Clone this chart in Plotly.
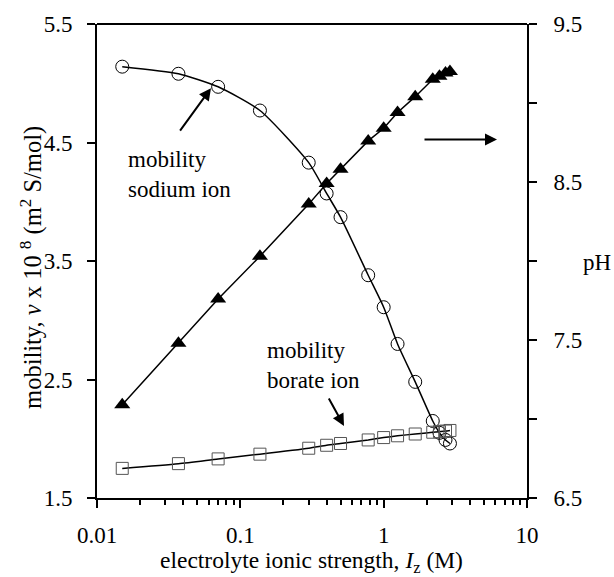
import plotly.graph_objects as go

# Electrolyte ionic strength (M)
ionic_strength = [0.015, 0.037, 0.07, 0.137, 0.3, 0.4, 0.5, 0.78, 1.0, 1.25,
                  1.66, 2.2, 2.45, 2.7, 2.9]
# Sodium ion mobility (x 1e8 m^2 S/mol)
mobility_sodium = [5.14, 5.08, 4.97, 4.77, 4.33, 4.07, 3.87, 3.38, 3.11, 2.80,
                   2.48, 2.15, 2.05, 1.99, 1.96]
# Borate ion mobility (x 1e8 m^2 S/mol)
mobility_borate = [1.75, 1.79, 1.83, 1.87, 1.92, 1.945, 1.96, 1.99, 2.01, 2.025,
                   2.04, 2.055, 2.06, 2.065, 2.07]
# Solution pH
ph_values = [7.09, 7.48, 7.76, 8.03, 8.36, 8.49, 8.58, 8.76, 8.84, 8.94,
             9.04, 9.15, 9.17, 9.19, 9.20]

left_ticks = [1.5, 2.5, 3.5, 4.5, 5.5]
right_ticks = [6.5, 7.0, 7.5, 8.0, 8.5, 9.0, 9.5]
right_ticktext = ["6.5", "", "7.5", "", "8.5", "", "9.5"]
x_major = [0.01, 0.1, 1, 10]
x_minor = [m * d for d in (0.01, 0.1, 1) for m in range(2, 10)]

FONT = "Liberation Serif"
W, H = 614, 577
L, R, T, B = 97, 87, 18, 79
PW, PH = W - L - R, H - T - B


def px(xp):
    return (xp - L) / PW


def py(yp):
    return (H - B - yp) / PH


fig = go.Figure()

fig.add_trace(go.Scatter(
    x=ionic_strength, y=mobility_sodium, mode="lines+markers",
    line=dict(color="black", width=1.5, shape="spline", smoothing=0.6),
    marker=dict(symbol="circle-open", size=13, color="black",
                line=dict(width=1, color="black")),
    yaxis="y", showlegend=False))

fig.add_trace(go.Scatter(
    x=ionic_strength, y=mobility_borate, mode="lines+markers",
    line=dict(color="black", width=1.5, shape="spline", smoothing=0.6),
    marker=dict(symbol="square-open", size=12, color="#555555",
                line=dict(width=1, color="#555555")),
    yaxis="y", showlegend=False))

fig.add_trace(go.Scatter(
    x=ionic_strength, y=ph_values, mode="lines+markers",
    line=dict(color="black", width=1.5),
    marker=dict(symbol="triangle-up", size=14, color="black"),
    yaxis="y2", showlegend=False))

axis_common = dict(showgrid=False, zeroline=False, showline=True,
                   linecolor="black", linewidth=2, ticks="outside",
                   tickcolor="black", tickwidth=1.5, ticklen=8,
                   tickfont=dict(family=FONT, size=23, color="black"))

fig.update_layout(
    width=W, height=H,
    margin=dict(l=L, r=R, t=T, b=B, pad=0),
    paper_bgcolor="white", plot_bgcolor="white",
    xaxis=dict(type="log", range=[-2, 1], tickmode="array",
               tickvals=x_major, ticktext=["0.01", "0.1", "1", "10"],
               ticklabelstandoff=7,
               minor=dict(tickmode="array", tickvals=x_minor, ticks="outside",
                          ticklen=5, tickwidth=1.5, tickcolor="black",
                          showgrid=False),
               **axis_common),
    yaxis=dict(range=[1.5, 5.5], tickmode="array", tickvals=left_ticks,
               ticktext=[f"{v:.1f}" for v in left_ticks],
               ticklabelstandoff=10, **axis_common),
    yaxis2=dict(range=[6.5, 9.5], tickmode="array", tickvals=right_ticks,
                ticktext=right_ticktext, overlaying="y", side="right",
                ticklabelstandoff=12, **axis_common),
)

# Top frame line
fig.add_shape(type="line", xref="paper", yref="paper", x0=0, x1=1, y0=1, y1=1,
              line=dict(color="black", width=2))

text_font = dict(family=FONT, size=23, color="black")

annotations = [
    # Axis titles
    dict(x=px(311), y=py(563), text="electrolyte ionic strength, <i>I</i><sub>z</sub> (M)",
         xanchor="center", yanchor="middle", font=dict(family=FONT, size=23.5, color="black")),
    dict(x=px(32), y=py(265), textangle=-90,
         text="mobility, <i>v</i> x 10 <sup>8</sup> (m<sup>2</sup> S/mol)",
         xanchor="center", yanchor="middle", font=dict(family=FONT, size=24.5, color="black")),
    dict(x=px(597), y=py(260), text="pH", xanchor="center", yanchor="middle",
         font=text_font),
    # Curve labels
    dict(x=px(126), y=py(170), text="mobility<br>sodium ion", align="left",
         xanchor="left", yanchor="middle", font=text_font),
    dict(x=px(265), y=py(364), text="mobility<br>borate ion", align="left",
         xanchor="left", yanchor="middle", font=text_font),
]
for a in annotations:
    fig.add_annotation(xref="paper", yref="paper", showarrow=False, **a)

# Pointer arrows (head position, tail offset in pixels)
arrows = [
    (211, 83, -32, 44),
    (497, 135, -74, 0),
    (344, 425, -16, -29),
]
for hx, hy, dx, dy in arrows:
    fig.add_annotation(xref="paper", yref="paper", x=px(hx), y=py(hy),
                       ax=dx, ay=dy, text="", showarrow=True, arrowhead=2,
                       arrowsize=1.2, arrowwidth=2, arrowcolor="black",
                       standoff=0, startstandoff=0)

fig.write_html("out.html")
